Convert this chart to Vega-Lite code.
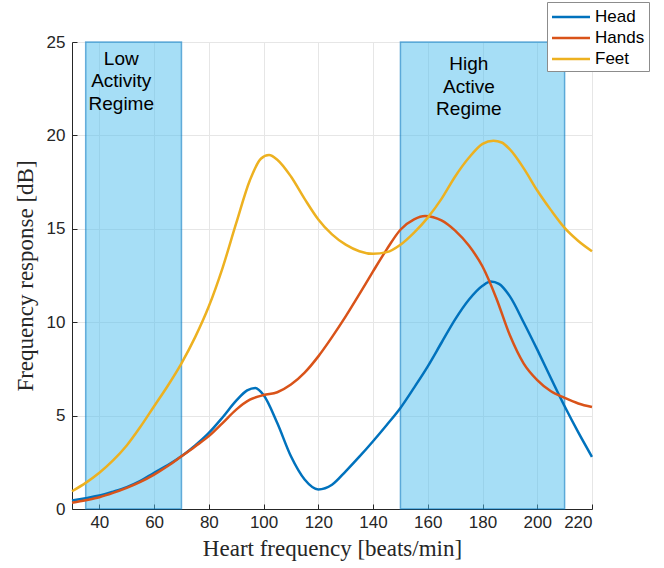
{
  "$schema": "https://vega.github.io/schema/vega-lite/v6.json",
  "width": 520,
  "height": 467,
  "autosize": {"type": "none"},
  "padding": {"left": 72, "top": 42, "right": 72, "bottom": 59},
  "background": "white",
  "config": {
    "view": {"stroke": null},
    "font": "Liberation Sans",
    "axis": {
      "domainColor": "#262626",
      "domainWidth": 1,
      "tickColor": "#262626",
      "tickSize": -5,
      "labelFontSize": 17,
      "labelColor": "#262626",
      "labelFont": "Liberation Sans",
      "gridColor": "#e6e6e6",
      "gridWidth": 1,
      "titleFont": "Liberation Serif",
      "titleFontSize": 23,
      "titleFontWeight": "normal",
      "titleColor": "#262626"
    }
  },
  "datasets": {
    "regions": [
      {"x0": 35, "x1": 70},
      {"x0": 150, "x1": 210}
    ],
    "notes": [
      {"x": 48, "y": 23.77, "label": "Low|Activity|Regime"},
      {"x": 175, "y": 23.5, "label": "High|Active|Regime"}
    ],
    "curves": [
      {"series": "Head", "x": 30, "y": 0.45}, {"series": "Head", "x": 35, "y": 0.58}, {"series": "Head", "x": 40, "y": 0.72}, {"series": "Head", "x": 45, "y": 0.93}, {"series": "Head", "x": 50, "y": 1.17}, {"series": "Head", "x": 55, "y": 1.5}, {"series": "Head", "x": 60, "y": 1.94}, {"series": "Head", "x": 65, "y": 2.35}, {"series": "Head", "x": 70, "y": 2.82}, {"series": "Head", "x": 75, "y": 3.4}, {"series": "Head", "x": 80, "y": 4.07}, {"series": "Head", "x": 85, "y": 4.9}, {"series": "Head", "x": 90, "y": 5.8}, {"series": "Head", "x": 94, "y": 6.35}, {"series": "Head", "x": 97, "y": 6.48}, {"series": "Head", "x": 100, "y": 6.1}, {"series": "Head", "x": 105, "y": 4.6}, {"series": "Head", "x": 110, "y": 2.82}, {"series": "Head", "x": 115, "y": 1.58}, {"series": "Head", "x": 120, "y": 1.05}, {"series": "Head", "x": 125, "y": 1.3}, {"series": "Head", "x": 130, "y": 2.02}, {"series": "Head", "x": 135, "y": 2.8}, {"series": "Head", "x": 140, "y": 3.63}, {"series": "Head", "x": 145, "y": 4.5}, {"series": "Head", "x": 150, "y": 5.41}, {"series": "Head", "x": 155, "y": 6.5}, {"series": "Head", "x": 160, "y": 7.64}, {"series": "Head", "x": 165, "y": 8.9}, {"series": "Head", "x": 170, "y": 10.15}, {"series": "Head", "x": 175, "y": 11.2}, {"series": "Head", "x": 180, "y": 11.95}, {"series": "Head", "x": 183, "y": 12.18}, {"series": "Head", "x": 186, "y": 12.05}, {"series": "Head", "x": 190, "y": 11.38}, {"series": "Head", "x": 195, "y": 10.0}, {"series": "Head", "x": 200, "y": 8.53}, {"series": "Head", "x": 205, "y": 7.0}, {"series": "Head", "x": 210, "y": 5.5}, {"series": "Head", "x": 215, "y": 4.1}, {"series": "Head", "x": 220, "y": 2.79},
      {"series": "Hands", "x": 30, "y": 0.33}, {"series": "Hands", "x": 35, "y": 0.47}, {"series": "Hands", "x": 40, "y": 0.63}, {"series": "Hands", "x": 45, "y": 0.86}, {"series": "Hands", "x": 50, "y": 1.13}, {"series": "Hands", "x": 55, "y": 1.45}, {"series": "Hands", "x": 60, "y": 1.84}, {"series": "Hands", "x": 65, "y": 2.3}, {"series": "Hands", "x": 70, "y": 2.82}, {"series": "Hands", "x": 75, "y": 3.35}, {"series": "Hands", "x": 80, "y": 3.9}, {"series": "Hands", "x": 85, "y": 4.6}, {"series": "Hands", "x": 90, "y": 5.32}, {"series": "Hands", "x": 95, "y": 5.85}, {"series": "Hands", "x": 100, "y": 6.1}, {"series": "Hands", "x": 105, "y": 6.25}, {"series": "Hands", "x": 110, "y": 6.66}, {"series": "Hands", "x": 115, "y": 7.3}, {"series": "Hands", "x": 120, "y": 8.17}, {"series": "Hands", "x": 125, "y": 9.2}, {"series": "Hands", "x": 130, "y": 10.31}, {"series": "Hands", "x": 135, "y": 11.5}, {"series": "Hands", "x": 140, "y": 12.72}, {"series": "Hands", "x": 145, "y": 13.9}, {"series": "Hands", "x": 150, "y": 14.95}, {"series": "Hands", "x": 155, "y": 15.5}, {"series": "Hands", "x": 159, "y": 15.68}, {"series": "Hands", "x": 162, "y": 15.62}, {"series": "Hands", "x": 165, "y": 15.45}, {"series": "Hands", "x": 170, "y": 14.9}, {"series": "Hands", "x": 175, "y": 14.1}, {"series": "Hands", "x": 180, "y": 12.98}, {"series": "Hands", "x": 185, "y": 11.3}, {"series": "Hands", "x": 190, "y": 9.3}, {"series": "Hands", "x": 195, "y": 7.8}, {"series": "Hands", "x": 200, "y": 6.9}, {"series": "Hands", "x": 205, "y": 6.3}, {"series": "Hands", "x": 210, "y": 5.95}, {"series": "Hands", "x": 215, "y": 5.65}, {"series": "Hands", "x": 220, "y": 5.46},
      {"series": "Feet", "x": 30, "y": 0.95}, {"series": "Feet", "x": 35, "y": 1.4}, {"series": "Feet", "x": 40, "y": 1.94}, {"series": "Feet", "x": 45, "y": 2.6}, {"series": "Feet", "x": 50, "y": 3.4}, {"series": "Feet", "x": 55, "y": 4.4}, {"series": "Feet", "x": 60, "y": 5.5}, {"series": "Feet", "x": 65, "y": 6.6}, {"series": "Feet", "x": 70, "y": 7.8}, {"series": "Feet", "x": 75, "y": 9.2}, {"series": "Feet", "x": 80, "y": 10.85}, {"series": "Feet", "x": 85, "y": 12.9}, {"series": "Feet", "x": 90, "y": 15.3}, {"series": "Feet", "x": 95, "y": 17.6}, {"series": "Feet", "x": 99, "y": 18.75}, {"series": "Feet", "x": 102, "y": 18.95}, {"series": "Feet", "x": 105, "y": 18.7}, {"series": "Feet", "x": 110, "y": 17.8}, {"series": "Feet", "x": 115, "y": 16.6}, {"series": "Feet", "x": 120, "y": 15.5}, {"series": "Feet", "x": 125, "y": 14.7}, {"series": "Feet", "x": 130, "y": 14.15}, {"series": "Feet", "x": 135, "y": 13.8}, {"series": "Feet", "x": 140, "y": 13.66}, {"series": "Feet", "x": 145, "y": 13.75}, {"series": "Feet", "x": 150, "y": 14.15}, {"series": "Feet", "x": 155, "y": 14.8}, {"series": "Feet", "x": 160, "y": 15.6}, {"series": "Feet", "x": 165, "y": 16.6}, {"series": "Feet", "x": 170, "y": 17.8}, {"series": "Feet", "x": 175, "y": 18.8}, {"series": "Feet", "x": 180, "y": 19.55}, {"series": "Feet", "x": 184, "y": 19.72}, {"series": "Feet", "x": 187, "y": 19.62}, {"series": "Feet", "x": 190, "y": 19.25}, {"series": "Feet", "x": 195, "y": 18.25}, {"series": "Feet", "x": 200, "y": 17.05}, {"series": "Feet", "x": 205, "y": 16.0}, {"series": "Feet", "x": 210, "y": 15.05}, {"series": "Feet", "x": 215, "y": 14.35}, {"series": "Feet", "x": 220, "y": 13.8}
    ]
  },
  "layer": [
    {
      "data": {"name": "regions"},
      "mark": {"type": "rect", "fill": "#4DBEEE", "fillOpacity": 0.5, "stroke": "#0072BD", "strokeOpacity": 0.55, "strokeWidth": 1.5},
      "encoding": {
        "x": {"field": "x0", "type": "quantitative", "scale": {"domain": [30, 220], "nice": false, "zero": false},
          "axis": {"values": [40, 60, 80, 100, 120, 140, 160, 180, 200, 220], "title": "Heart frequency [beats/min]", "labelPadding": 10, "titlePadding": 7, "grid": true}},
        "x2": {"field": "x1"},
        "y": {"datum": 0, "type": "quantitative", "scale": {"domain": [0, 25], "nice": false},
          "axis": {"values": [0, 5, 10, 15, 20, 25], "title": "Frequency response [dB]", "labelPadding": 12, "titlePadding": 9, "grid": true}},
        "y2": {"datum": 25}
      }
    },
    {
      "data": {"name": "curves"},
      "mark": {"type": "line", "strokeWidth": 2.5, "interpolate": "monotone"},
      "encoding": {
        "x": {"field": "x", "type": "quantitative"},
        "y": {"field": "y", "type": "quantitative"},
        "color": {
          "field": "series", "type": "nominal",
          "scale": {"domain": ["Head", "Hands", "Feet"], "range": ["#0072BD", "#D95319", "#EDB120"]},
          "legend": {
            "title": null, "orient": "none", "legendX": 475, "legendY": -40,
            "fillColor": "white", "strokeColor": "#8c8c8c", "padding": 4,
            "symbolType": "M-2,0H2", "symbolSize": 361, "symbolStrokeWidth": 2.5, "symbolOffset": 9,
            "labelFontSize": 17, "labelColor": "#000000", "labelFont": "Liberation Sans", "rowPadding": 2, "labelOffset": 13
          }
        }
      }
    },
    {
      "data": {"name": "notes"},
      "transform": [{"calculate": "split(datum.label, '|')", "as": "lines"}],
      "mark": {"type": "text", "fontSize": 19, "font": "Liberation Sans", "color": "#000000", "align": "center", "baseline": "alphabetic", "lineHeight": 22.5},
      "encoding": {
        "x": {"field": "x", "type": "quantitative"},
        "y": {"field": "y", "type": "quantitative"},
        "text": {"field": "lines"}
      }
    }
  ]
}
